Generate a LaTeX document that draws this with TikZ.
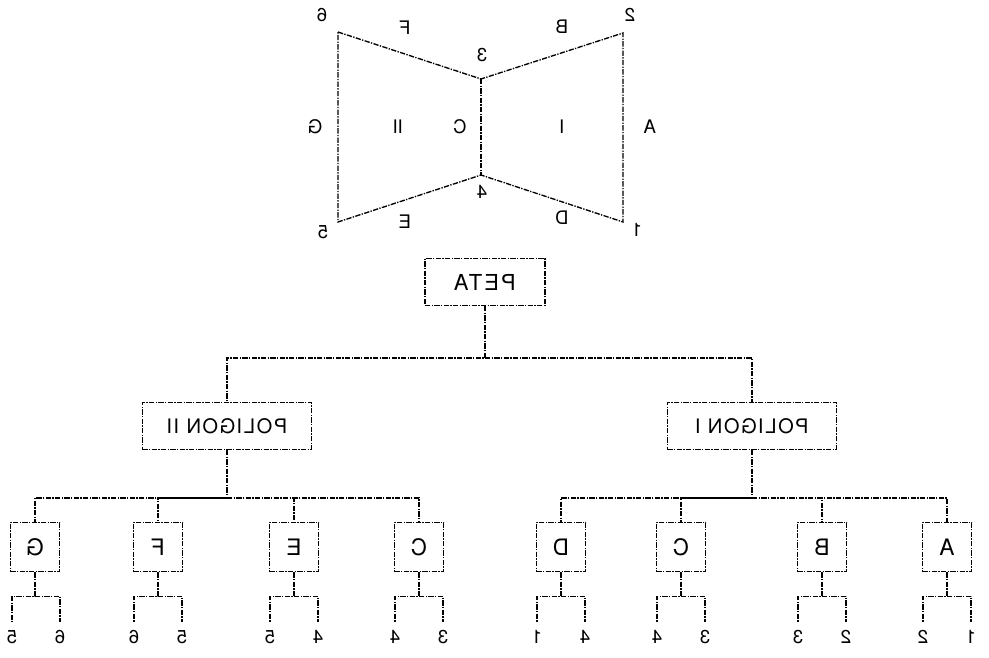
\documentclass[tikz,border=0pt]{standalone}
\usepackage{fontspec}
\setmainfont{TeX Gyre Heros}
\usepackage{graphicx}
\usetikzlibrary{positioning}

\begin{document}
\begin{tikzpicture}[
  x=0.75pt,y=-0.75pt,
  scanline/.style={line width=1pt,dash pattern=on 4pt off 1pt on 1pt off 1pt},
  tag/.style={inner sep=1pt,font=\fontsize{14}{14}\selectfont},
  leaf/.style={inner sep=1pt,font=\fontsize{14}{14}\selectfont},
  rootbox/.style={scanline,draw,minimum width=90pt,minimum height=35pt,font=\fontsize{16.5}{16.5}\selectfont\addfontfeature{LetterSpace=10}},
  polybox/.style={scanline,draw,minimum width=127pt,minimum height=35pt,font=\fontsize{15}{15}\selectfont\addfontfeature{LetterSpace=8}},
  edgebox/.style={scanline,draw,minimum width=37pt,minimum height=37pt,font=\fontsize{17}{17}\selectfont}
]
\useasboundingbox (0,0) rectangle (989,657);
% polygon map
\coordinate (v1) at (623,222);
\coordinate (v2) at (623,33);
\coordinate (v3) at (481,79);
\coordinate (v4) at (481,175);
\coordinate (v5) at (338,222);
\coordinate (v6) at (338,32);
\draw[scanline] (v6) -- (v3) -- (v2) -- (v1) -- (v4) -- (v5) -- cycle;
\draw[scanline] (v3) -- (v4);
\node[leaf] (n6) at (322,15) {\reflectbox{6}};
\node[leaf] (n2) at (630,15) {\reflectbox{2}};
\node[leaf] (n3) at (482,55) {\reflectbox{3}};
\node[leaf] (n4) at (482,192) {\reflectbox{4}};
\node[leaf] (n1) at (637,230) {\reflectbox{1}};
\node[leaf] (n5) at (323,232) {\reflectbox{5}};
\node[tag] (sF) at (405,28) {\reflectbox{F}};
\node[tag] (sB) at (562,27) {\reflectbox{B}};
\node[tag] (sG) at (315,127) {\reflectbox{G}};
\node[tag] (sC) at (460,127) {\reflectbox{C}};
\node[tag] (sA) at (650,127) {\reflectbox{A}};
\node[tag] (sE) at (405,222) {\reflectbox{E}};
\node[tag] (sD) at (562,218) {\reflectbox{D}};
\node[tag] (pII) at (398,127) {\reflectbox{II}};
\node[tag] (pI) at (562,127) {\reflectbox{I}};
% tree
\node[rootbox] (peta) at (485,282) {\reflectbox{PETA}};
\node[polybox] (pol2) at (227,426) {\reflectbox{POLIGON II}};
\node[polybox] (pol1) at (752,426) {\reflectbox{POLIGON I}};
\draw[scanline] (peta.south) -- ++(0,52) -| (pol2.north);
\draw[scanline] (peta.south) ++(0,52) -| (pol1.north);
% edges of polygon II
\node[edgebox] (eG) at (35,547) {\reflectbox{G}};
\node[edgebox] (eF) at (158,547) {\reflectbox{F}};
\node[edgebox] (eE) at (294,547) {\reflectbox{E}};
\node[edgebox] (eC2) at (419,547) {\reflectbox{C}};
\draw[scanline] (pol2.south) -- ++(0,48) -| (eG.north);
\draw[scanline] (pol2.south) ++(0,48) -| (eF.north);
\draw[scanline] (pol2.south) ++(0,48) -| (eE.north);
\draw[scanline] (pol2.south) ++(0,48) -| (eC2.north);
% edges of polygon I
\node[edgebox] (eD) at (561,547) {\reflectbox{D}};
\node[edgebox] (eC1) at (681,547) {\reflectbox{C}};
\node[edgebox] (eB) at (822,547) {\reflectbox{B}};
\node[edgebox] (eA) at (947,547) {\reflectbox{A}};
\draw[scanline] (pol1.south) -- ++(0,48) -| (eD.north);
\draw[scanline] (pol1.south) ++(0,48) -| (eC1.north);
\draw[scanline] (pol1.south) ++(0,48) -| (eB.north);
\draw[scanline] (pol1.south) ++(0,48) -| (eA.north);
% end points of each edge
\node[leaf] (gL) at (12,637) {\reflectbox{5}};
\node[leaf] (gR) at (60,637) {\reflectbox{6}};
\node[leaf] (fL) at (134,637) {\reflectbox{6}};
\node[leaf] (fR) at (182,637) {\reflectbox{5}};
\node[leaf] (eL) at (270,637) {\reflectbox{5}};
\node[leaf] (eR) at (318,637) {\reflectbox{4}};
\node[leaf] (c2L) at (395,637) {\reflectbox{4}};
\node[leaf] (c2R) at (443,637) {\reflectbox{3}};
\node[leaf] (dL) at (537,637) {\reflectbox{1}};
\node[leaf] (dR) at (585,637) {\reflectbox{4}};
\node[leaf] (c1L) at (657,637) {\reflectbox{4}};
\node[leaf] (c1R) at (705,637) {\reflectbox{3}};
\node[leaf] (bL) at (798,637) {\reflectbox{3}};
\node[leaf] (bR) at (846,637) {\reflectbox{2}};
\node[leaf] (aL) at (923,637) {\reflectbox{2}};
\node[leaf] (aR) at (971,637) {\reflectbox{1}};
\draw[scanline,shorten >=5pt] (eG.south) -- ++(0,24) -| (gL.north);
\draw[scanline,shorten >=5pt] (eG.south) ++(0,24) -| (gR.north);
\draw[scanline,shorten >=5pt] (eF.south) -- ++(0,24) -| (fL.north);
\draw[scanline,shorten >=5pt] (eF.south) ++(0,24) -| (fR.north);
\draw[scanline,shorten >=5pt] (eE.south) -- ++(0,24) -| (eL.north);
\draw[scanline,shorten >=5pt] (eE.south) ++(0,24) -| (eR.north);
\draw[scanline,shorten >=5pt] (eC2.south) -- ++(0,24) -| (c2L.north);
\draw[scanline,shorten >=5pt] (eC2.south) ++(0,24) -| (c2R.north);
\draw[scanline,shorten >=5pt] (eD.south) -- ++(0,24) -| (dL.north);
\draw[scanline,shorten >=5pt] (eD.south) ++(0,24) -| (dR.north);
\draw[scanline,shorten >=5pt] (eC1.south) -- ++(0,24) -| (c1L.north);
\draw[scanline,shorten >=5pt] (eC1.south) ++(0,24) -| (c1R.north);
\draw[scanline,shorten >=5pt] (eB.south) -- ++(0,24) -| (bL.north);
\draw[scanline,shorten >=5pt] (eB.south) ++(0,24) -| (bR.north);
\draw[scanline,shorten >=5pt] (eA.south) -- ++(0,24) -| (aL.north);
\draw[scanline,shorten >=5pt] (eA.south) ++(0,24) -| (aR.north);
\end{tikzpicture}
\end{document}
